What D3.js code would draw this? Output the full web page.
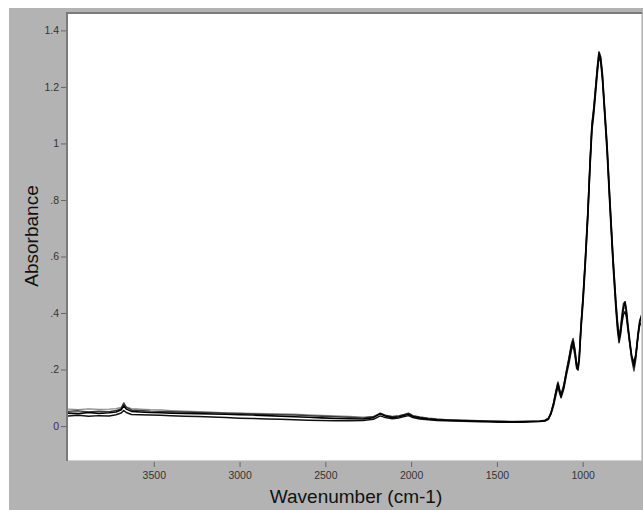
<!DOCTYPE html>
<html>
<head>
<meta charset="utf-8">
<script src="https://cdn.jsdelivr.net/npm/d3@7"></script>
<style>
  body { margin: 0; background: #fff; }
  svg { display: block; font-family: "Liberation Sans", Arial, sans-serif; }
</style>
</head>
<body>
<svg id="chart"></svg>
<script>

const width = 643;
const height = 510;

// wavenumbers (cm-1), shared by all spectra
const wavenumbers = [
  4000, 3940, 3880, 3820, 3760, 3720, 3690, 3675, 3660, 3630,
  3580, 3520, 3460, 3400, 3320, 3240, 3160, 3080, 3000, 2920,
  2840, 2760, 2680, 2600, 2520, 2440, 2360, 2280, 2220, 2180,
  2150, 2110, 2070, 2040, 2015, 1990, 1950, 1900, 1850, 1800,
  1750, 1700, 1650, 1600, 1550, 1500, 1450, 1400, 1350, 1300,
  1250, 1220, 1200, 1185, 1170, 1155, 1144, 1135, 1126, 1110,
  1095, 1080, 1066, 1056, 1045, 1035, 1027, 1020, 1010, 998,
  985, 970, 957, 946, 935, 925, 915, 905, 895, 885,
  870, 858, 841, 823, 806, 797, 788, 780, 771, 762,
  753, 745, 735, 725, 715, 701, 690, 677, 668, 660
];

const spectrumA = [
  0.046, 0.044, 0.048, 0.045, 0.047, 0.050, 0.058, 0.072, 0.060, 0.052,
  0.050, 0.048, 0.047, 0.046, 0.045, 0.044, 0.043, 0.042, 0.040, 0.039,
  0.037, 0.035, 0.033, 0.031, 0.029, 0.027, 0.026, 0.025, 0.030, 0.044,
  0.036, 0.030, 0.033, 0.038, 0.042, 0.034, 0.029, 0.025, 0.022, 0.021,
  0.020, 0.019, 0.018, 0.017, 0.016, 0.016, 0.015, 0.015, 0.015, 0.016,
  0.017, 0.019, 0.026, 0.045, 0.078, 0.122, 0.150, 0.126, 0.106, 0.140,
  0.190, 0.235, 0.282, 0.302, 0.262, 0.214, 0.206, 0.240, 0.350, 0.450,
  0.580, 0.750, 0.930, 1.060, 1.120, 1.190, 1.260, 1.320, 1.300, 1.240,
  1.100, 0.990, 0.790, 0.590, 0.430, 0.360, 0.310, 0.330, 0.380, 0.420,
  0.440, 0.410, 0.350, 0.300, 0.250, 0.210, 0.250, 0.330, 0.370, 0.385
];

const spectrumB = [
  0.036, 0.038, 0.035, 0.037, 0.036, 0.040, 0.046, 0.055, 0.048, 0.041,
  0.040, 0.039, 0.038, 0.037, 0.035, 0.034, 0.032, 0.030, 0.028, 0.027,
  0.025, 0.024, 0.022, 0.021, 0.020, 0.019, 0.019, 0.020, 0.024, 0.036,
  0.030, 0.026, 0.029, 0.034, 0.037, 0.030, 0.025, 0.022, 0.020, 0.019,
  0.018, 0.017, 0.016, 0.015, 0.015, 0.014, 0.014, 0.014, 0.014, 0.015,
  0.016, 0.018, 0.024, 0.042, 0.072, 0.112, 0.140, 0.118, 0.100, 0.132,
  0.180, 0.222, 0.268, 0.288, 0.250, 0.204, 0.198, 0.232, 0.338, 0.436,
  0.565, 0.735, 0.915, 1.045, 1.105, 1.175, 1.245, 1.305, 1.290, 1.225,
  1.085, 0.970, 0.770, 0.570, 0.410, 0.340, 0.295, 0.320, 0.365, 0.395,
  0.405, 0.385, 0.335, 0.290, 0.250, 0.225, 0.255, 0.320, 0.355, 0.365
];

const spectrumC = [
  0.052, 0.054, 0.050, 0.053, 0.051, 0.055, 0.062, 0.082, 0.066, 0.057,
  0.055, 0.053, 0.052, 0.051, 0.050, 0.048, 0.047, 0.046, 0.045, 0.043,
  0.041, 0.040, 0.039, 0.037, 0.035, 0.033, 0.031, 0.029, 0.033, 0.046,
  0.039, 0.033, 0.036, 0.041, 0.046, 0.037, 0.032, 0.028, 0.025, 0.023,
  0.022, 0.021, 0.020, 0.019, 0.018, 0.017, 0.017, 0.016, 0.017, 0.017,
  0.018, 0.021, 0.028, 0.048, 0.082, 0.128, 0.156, 0.132, 0.112, 0.146,
  0.196, 0.242, 0.290, 0.310, 0.272, 0.222, 0.214, 0.248, 0.360, 0.462,
  0.592, 0.762, 0.942, 1.072, 1.130, 1.200, 1.270, 1.325, 1.308, 1.250,
  1.112, 1.002, 0.802, 0.602, 0.442, 0.372, 0.322, 0.345, 0.395, 0.435,
  0.438, 0.400, 0.342, 0.288, 0.238, 0.195, 0.238, 0.318, 0.362, 0.392
];

const spectrumD = [
  0.060, 0.058, 0.061, 0.059, 0.060, 0.062, 0.066, 0.078, 0.068, 0.062,
  0.060, 0.058, 0.057, 0.055, 0.053, 0.051, 0.049, 0.047, 0.046, 0.045,
  0.044, 0.043, 0.042, 0.040, 0.038, 0.036, 0.034, 0.032, 0.034, 0.042,
  0.038, 0.034, 0.037, 0.040, 0.043, 0.036, 0.031, 0.027, 0.024, 0.022,
  0.021, 0.020, 0.019, 0.018, 0.017, 0.017, 0.016, 0.016, 0.016, 0.017,
  0.018, 0.020, 0.027, 0.046, 0.080, 0.125, 0.152, 0.128, 0.108, 0.142,
  0.192, 0.238, 0.285, 0.305, 0.268, 0.218, 0.210, 0.244, 0.354, 0.455,
  0.585, 0.755, 0.935, 1.065, 1.124, 1.194, 1.262, 1.318, 1.296, 1.236,
  1.095, 0.982, 0.782, 0.582, 0.422, 0.352, 0.305, 0.328, 0.372, 0.410,
  0.428, 0.398, 0.345, 0.295, 0.245, 0.215, 0.248, 0.325, 0.365, 0.378
];

const xTicks = [3500, 3000, 2500, 2000, 1500, 1000];
const yTicks = [0, 0.2, 0.4, 0.6, 0.8, 1, 1.2, 1.4];
const yTickLabels = ["0", ".2", ".4", ".6", ".8", "1", "1.2", "1.4"];

// plot panel
const panelL = 68, panelR = 641, panelT = 14, panelB = 460;

const svg = d3.select("#chart")
              .attr("width", width)
              .attr("height", height);

svg.append("rect")
   .attr("x", 0).attr("y", 0)
   .attr("width", width).attr("height", height)
   .attr("fill", "#fff");

svg.append("rect")
   .attr("x", 9).attr("y", 8)
   .attr("width", width - 9).attr("height", height - 8)
   .attr("fill", "#b3b3b3");

svg.append("rect")
   .attr("x", panelL).attr("y", panelT)
   .attr("width", panelR - panelL).attr("height", panelB - panelT)
   .attr("fill", "#fff");

const xScale = d3.scaleLinear()
                 .domain([4000, 660])
                 .range([panelL, panelR]);

const yScale = d3.scaleLinear()
                 .domain([-0.12, 1.458])
                 .range([panelB, panelT]);

svg.append("defs")
   .append("clipPath")
   .attr("id", "clip")
   .append("rect")
   .attr("x", panelL).attr("y", panelT)
   .attr("width", panelR - panelL).attr("height", panelB - panelT);

const line = d3.line()
               .x((d, i) => xScale(wavenumbers[i]))
               .y(d => yScale(d));

const traces = [
  { values: spectrumD, color: "#8c8c8c", w: 1.3 },
  { values: spectrumC, color: "#3a3a3a", w: 1.4 },
  { values: spectrumB, color: "#111", w: 1.5 },
  { values: spectrumA, color: "#000", w: 1.6 }
];

svg.append("g")
   .attr("clip-path", "url(#clip)")
   .selectAll("path")
   .data(traces)
   .enter()
   .append("path")
   .attr("d", t => line(t.values))
   .attr("fill", "none")
   .attr("stroke", t => t.color)
   .attr("stroke-width", t => t.w)
   .attr("stroke-linejoin", "round");

// panel border, sunken look
svg.append("line")
   .attr("x1", panelL - 1).attr("x2", panelL - 1)
   .attr("y1", panelT - 2).attr("y2", panelB + 1)
   .attr("stroke", "#7a7a7a").attr("stroke-width", 2);
svg.append("line")
   .attr("x1", panelL - 2).attr("x2", panelR + 1)
   .attr("y1", panelT - 1).attr("y2", panelT - 1)
   .attr("stroke", "#7a7a7a").attr("stroke-width", 2);
svg.append("line")
   .attr("x1", panelR + 0.5).attr("x2", panelR + 0.5)
   .attr("y1", panelT).attr("y2", panelB + 1)
   .attr("stroke", "#d2d2d2").attr("stroke-width", 1);
svg.append("line")
   .attr("x1", panelL).attr("x2", panelR + 1)
   .attr("y1", panelB + 0.5).attr("y2", panelB + 0.5)
   .attr("stroke", "#d2d2d2").attr("stroke-width", 1);

let xAxis = d3.axisBottom(xScale)
              .tickValues(xTicks)
              .tickSize(5)
              .tickPadding(5)
              .tickFormat(d3.format("d"));

let yAxis = d3.axisLeft(yScale)
              .tickValues(yTicks)
              .tickSize(5)
              .tickPadding(2)
              .tickFormat((d, i) => yTickLabels[i]);

const gx = svg.append("g")
              .attr("transform", `translate(0, ${panelB + 2})`)
              .call(xAxis);

const gy = svg.append("g")
              .attr("transform", `translate(${panelL - 2}, 0)`)
              .call(yAxis);

[gx, gy].forEach(g => {
  g.select(".domain").remove();
  g.selectAll(".tick line").attr("stroke", "#666");
  g.selectAll(".tick text")
   .attr("fill", "#333")
   .style("font-size", "10.5px")
   .style("font-family", "'Liberation Sans', Arial, sans-serif");
});

svg.append("text")
   .attr("x", 356)
   .attr("y", 503)
   .attr("text-anchor", "middle")
   .attr("fill", "#111")
   .style("font-size", "19px")
   .text("Wavenumber (cm-1)");

svg.append("text")
   .attr("transform", "translate(38, 236) rotate(-90)")
   .attr("text-anchor", "middle")
   .attr("fill", "#111")
   .style("font-size", "19px")
   .text("Absorbance");

</script>
</body>
</html>
